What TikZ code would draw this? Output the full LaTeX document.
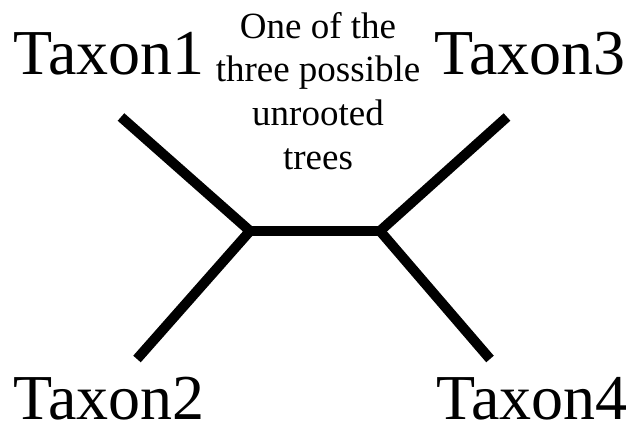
\documentclass[tikz,border=0pt]{standalone}
\usepackage{fontspec}
\setmainfont{Liberation Serif}
\usepackage{tikz}
\tikzset{
  taxon/.style={inner sep=0pt, anchor=base, font=\fontsize{64}{64}\selectfont},
  note/.style={inner sep=0pt, anchor=north, align=center, font=\fontsize{37}{43.7}\selectfont},
  branch/.style={line width=10pt, line join=miter, draw=black},
}

\begin{document}
\begin{tikzpicture}[x=1pt, y=-1pt]
    \useasboundingbox (0,0) rectangle (635,435);

    \node[taxon] (t1) at (109,75) {Taxon1};
    \node[taxon] (t3) at (530,75) {Taxon3};
    \node[taxon] (t2) at (109,420) {Taxon2};
    \node[taxon] (t4) at (532,420) {Taxon4};
    \node[note] (lbl) at (318,12) {One of the\\three possible\\unrooted\\trees};

    \coordinate (l1) at (121,117);
    \coordinate (l3) at (507,117);
    \coordinate (l2) at (137,359);
    \coordinate (l4) at (490,359);
    \coordinate (j1) at (250,231);
    \coordinate (j2) at (380,231);

    \draw[branch] (l1) -- (j1) -- (l2);
    \draw[branch] (l3) -- (j2) -- (l4);
    \draw[branch] (j1) -- (j2);
\end{tikzpicture}
\end{document}
